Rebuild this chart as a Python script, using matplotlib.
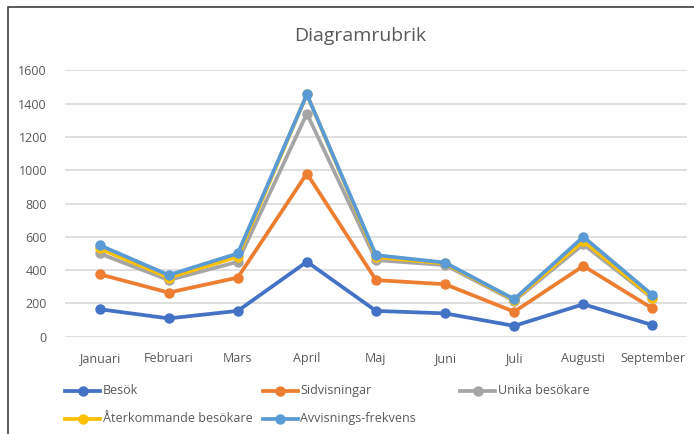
import matplotlib.pyplot as plt
from matplotlib.patches import Rectangle
from matplotlib.lines import Line2D

months = ["Januari", "Februari", "Mars", "April", "Maj", "Juni", "Juli", "Augusti", "September"]
besok = [165, 110, 155, 450, 155, 140, 65, 195, 70]
sidvisningar = [375, 265, 355, 980, 340, 315, 150, 425, 170]
unika = [500, 340, 450, 1340, 460, 430, 215, 555, 230]
aterkommande = [530, 355, 480, 1455, 478, 440, 220, 575, 235]
avvisning = [550, 370, 500, 1455, 490, 445, 225, 600, 250]

names = ["Besök", "Sidvisningar", "Unika besökare", "Återkommande besökare", "Avvisnings-frekvens"]
series = [besok, sidvisningar, unika, aterkommande, avvisning]
colors = ["#4472C4", "#ED7D31", "#A5A5A5", "#FFC000", "#5B9BD5"]

txt = "#595959"
plt.rcParams['font.family'] = ['Open Sans', 'DejaVu Sans']

fig = plt.figure(figsize=(6.94, 4.34), dpi=100)
ax = fig.add_axes([65/694, 97.3/434, 622/694, 266.4/434])

x = list(range(len(months)))
for vals, c in zip(series, colors):
    ax.plot(x, vals, color=c, lw=2.7, marker='o', ms=6.5, solid_capstyle='round')

ax.set_xlim(-0.5, len(months) - 0.5)
ax.set_ylim(0, 1600)
ax.set_yticks(range(0, 1601, 200))
ax.set_xticks(x, months)
ax.grid(axis='y', color='#D9D9D9', lw=1.2)
ax.set_axisbelow(True)
for s in ax.spines.values():
    s.set_visible(False)
ax.tick_params(length=0, labelsize=9, labelcolor=txt)
ax.tick_params(axis='y', pad=13)
ax.tick_params(axis='x', pad=11)

fig.text(360/694, 1 - 36/434, "Diagramrubrik", ha='center', va='center', fontsize=14, color=txt)

# legend laid out like the Excel one: fixed-width columns, 3 per row
for i, (name, c) in enumerate(zip(names, colors)):
    col, row = i % 3, i // 3
    x0 = (65 + col * 197.5) / 694
    y0 = 1 - (390.7 + row * 28) / 434
    fig.add_artist(Line2D([x0, x0 + 35/694], [y0, y0], color=c, lw=2.7,
                          transform=fig.transFigure))
    fig.add_artist(Line2D([x0 + 17.5/694], [y0], color=c, marker='o', ms=6.5,
                          transform=fig.transFigure))
    fig.text(x0 + 38/694, y0, name, ha='left', va='center', fontsize=9, color=txt)

fig.add_artist(Rectangle((8/694, -0.5), 2, 0.5 + 1 - 7/434, fill=False,
                         edgecolor='#404040', lw=1.2, transform=fig.transFigure))

fig.savefig("out.png", dpi=100)
